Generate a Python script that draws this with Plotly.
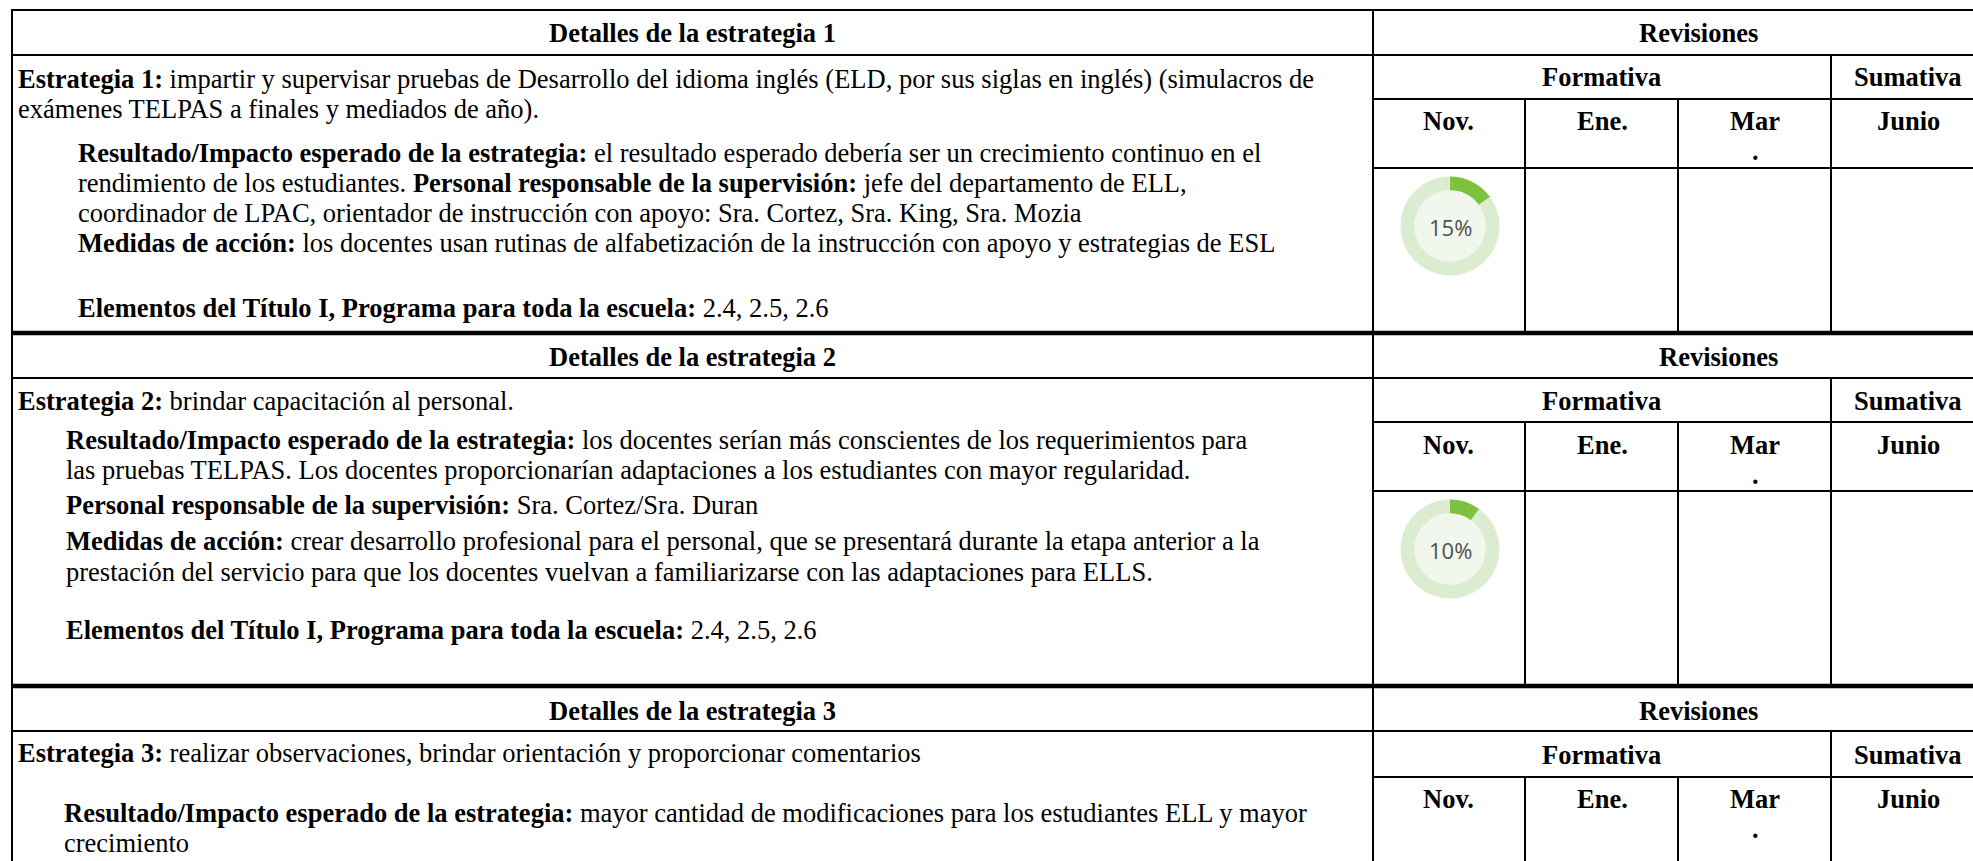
import plotly.graph_objects as go

W, H = 1973, 861

# ---------------- data ----------------
strategy_titles = ["Detalles de la estrategia 1", "Detalles de la estrategia 2", "Detalles de la estrategia 3"]
review_title = "Revisiones"
review_groups = ["Formativa", "Sumativa"]
review_months = ["Nov.", "Ene.", "Mar\n.", "Junio"]
nov_progress = [15, 10]          # % complete shown in the Nov. column (strategy 1, 2)

strategy1_lines = [
    "<b>Estrategia 1:</b> impartir y supervisar pruebas de Desarrollo del idioma inglés (ELD, por sus siglas en inglés) (simulacros de",
    "exámenes TELPAS a finales y mediados de año).",
    "<b>Resultado/Impacto esperado de la estrategia:</b> el resultado esperado debería ser un crecimiento continuo en el",
    "rendimiento de los estudiantes. <b>Personal responsable de la supervisión:</b> jefe del departamento de ELL,",
    "coordinador de LPAC, orientador de instrucción con apoyo: Sra. Cortez, Sra. King, Sra. Mozia",
    "<b>Medidas de acción:</b> los docentes usan rutinas de alfabetización de la instrucción con apoyo y estrategias de ESL",
    "<b>Elementos del Título I, Programa para toda la escuela:</b> 2.4, 2.5, 2.6",
]
strategy2_lines = [
    "<b>Estrategia 2:</b> brindar capacitación al personal.",
    "<b>Resultado/Impacto esperado de la estrategia:</b> los docentes serían más conscientes de los requerimientos para",
    "las pruebas TELPAS. Los docentes proporcionarían adaptaciones a los estudiantes con mayor regularidad.",
    "<b>Personal responsable de la supervisión:</b> Sra. Cortez/Sra. Duran",
    "<b>Medidas de acción:</b> crear desarrollo profesional para el personal, que se presentará durante la etapa anterior a la",
    "prestación del servicio para que los docentes vuelvan a familiarizarse con las adaptaciones para ELLS.",
    "<b>Elementos del Título I, Programa para toda la escuela:</b> 2.4, 2.5, 2.6",
]
strategy3_lines = [
    "<b>Estrategia 3:</b> realizar observaciones, brindar orientación y proporcionar comentarios",
    "<b>Resultado/Impacto esperado de la estrategia:</b> mayor cantidad de modificaciones para los estudiantes ELL y mayor",
    "crecimiento",
]
strategy_lines = [strategy1_lines, strategy2_lines, strategy3_lines]

# ---------------- layout (pixels) ----------------
SERIF = "Liberation Serif"
FS = 26.5
X_LEFT, X_DIV, X_RIGHT = 12, 1373, 1990
COL_X = [1373, 1525, 1678, 1831, 1990]
COL_CX = [1448, 1602, 1755, 1908]
FORM_CX, SUM_CX = 1601, 1908

block_top = [10, 333, 686]
block_bot = [333, 686, 900]
header_bot = [55, 378, 731]
group_bot = [99, 422, 777]
month_bot = [168, 491, None]
header_y = [33, 357, 711]
group_y = [77, 401, 755]
month_y = [121, 445, 799]
review_cx = [1698, 1718, 1698]
title_cx = [692, 692, 692]

line_x = [[16, 16, 76, 76, 76, 76, 76],
          [16, 64, 64, 64, 64, 64, 64],
          [16, 62, 62]]
line_y = [[79, 109, 153, 183, 213, 243, 308],
          [401, 440, 470, 505, 541, 572, 630],
          [753, 813, 843]]

donut_c = [(1450, 226), (1450, 549)]
donut_r = 49.5

fig = go.Figure()
shapes = []
ann = []


def hline(y, x0, x1, w=2):
    shapes.append(dict(type="line", xref="x", yref="y", x0=x0, x1=x1, y0=y, y1=y,
                       line=dict(color="black", width=w)))


def vline(x, y0, y1, w=2):
    shapes.append(dict(type="line", xref="x", yref="y", x0=x, x1=x, y0=y0, y1=y1,
                       line=dict(color="black", width=w)))


def text(t, x, y, anchor="center", size=FS, family=SERIF, color="black"):
    ann.append(dict(text=t, x=x, y=y, xref="x", yref="y", xanchor=anchor, yanchor="middle",
                    showarrow=False, font=dict(family=family, size=size, color=color)))


# outer frame / block separators
hline(block_top[0], X_LEFT - 1, W + 5, 2)
vline(X_LEFT, block_top[0] - 1, H + 5)
vline(X_DIV, block_top[0] - 1, H + 5)
for b in range(3):
    if b > 0:
        hline(block_top[b], X_LEFT - 1, W + 5, 4.5)
    hline(header_bot[b], X_LEFT, W + 5, 2)
    hline(group_bot[b], X_DIV, W + 5, 2)
    if month_bot[b] is not None:
        hline(month_bot[b], X_DIV, W + 5, 2)
    vline(COL_X[3], header_bot[b], block_bot[b])
    vline(COL_X[1], group_bot[b], block_bot[b])
    vline(COL_X[2], group_bot[b], block_bot[b])

    text("<b>%s</b>" % strategy_titles[b], title_cx[b], header_y[b])
    text("<b>%s</b>" % review_title, review_cx[b], header_y[b])
    text("<b>%s</b>" % review_groups[0], FORM_CX, group_y[b])
    text("<b>%s</b>" % review_groups[1], SUM_CX, group_y[b])
    for i, m in enumerate(review_months):
        for k, part in enumerate(m.split("\n")):
            text("<b>%s</b>" % part, COL_CX[i], month_y[b] + 30 * k)
    for t, x, y in zip(strategy_lines[b], line_x[b], line_y[b]):
        text(t, x, y, anchor="left")

# progress donuts
for (cx, cy), v in zip(donut_c, nov_progress):
    shapes.append(dict(type="circle", xref="x", yref="y", layer="below",
                       x0=cx - 36, x1=cx + 36, y0=cy - 36, y1=cy + 36,
                       fillcolor="#f2f7ee", line=dict(width=0)))
    fig.add_trace(go.Pie(values=[v, 100 - v], sort=False, direction="clockwise", rotation=0,
                         hole=0.72, marker=dict(colors=["#7dc23f", "#dcecd1"], line=dict(width=0)),
                         textinfo="none", hoverinfo="skip", showlegend=False,
                         domain=dict(x=[(cx - donut_r) / W, (cx + donut_r) / W],
                                     y=[1 - (cy + donut_r) / H, 1 - (cy - donut_r) / H])))
    text("%d%%" % v, cx, cy + 1, size=22, family="Open Sans", color="#4f4f4f")

fig.update_layout(
    width=W, height=H, margin=dict(l=0, r=0, t=0, b=0),
    paper_bgcolor="white", plot_bgcolor="white",
    xaxis=dict(range=[0, W], visible=False, fixedrange=True),
    yaxis=dict(range=[H, 0], visible=False, fixedrange=True),
    shapes=shapes, annotations=ann, showlegend=False,
)
fig.write_html("out.html", config={"displayModeBar": False},
               post_script="document.body.style.margin='0';document.body.style.overflow='hidden';")
